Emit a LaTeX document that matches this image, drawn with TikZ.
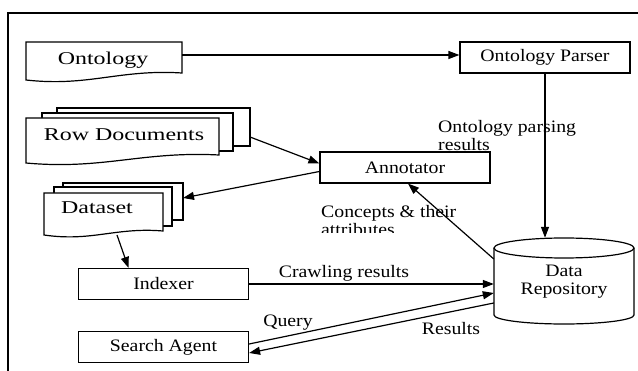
\documentclass[tikz,border=0pt]{standalone}
\usepackage{fontspec}
\setmainfont{Liberation Serif}[FakeStretch=1.13]
\newfontfamily\docfont{Liberation Serif}[FakeStretch=1.33]
\usetikzlibrary{arrows.meta}
\tikzset{
  flowarr/.style = {-{Triangle[length=11pt,width=8pt]},line width=1.2pt},
  procbox/.style = {draw,fill=white,line width=1.2pt,minimum width=170pt,
                    minimum height=31pt,inner sep=0pt,
                    font=\fontsize{17.5}{19}\selectfont},
  lbl/.style     = {font=\fontsize{17.5}{18}\selectfont,inner sep=0pt,align=left},
  doctext/.style = {font=\docfont\fontsize{18}{20}\selectfont,inner sep=0pt},
  docpage/.style = {draw,fill=white,line width=1.2pt}
}
% #1,#2 top left, #3,#4 bottom left corner, #5 rise of the right corner
\newcommand{\docsheet}[5]{%
  \draw[docpage] (#1,#2) -- (#3,#2) -- (#3,#4-#5)
    .. controls (#3*0.6+#1*0.4,#4-#5-4) and (#1*0.6+#3*0.4,#4+7) .. (#1,#4) -- cycle;
}

\begin{document}
\begin{tikzpicture}[x=1pt,y=-1pt]
  \useasboundingbox (0,0) rectangle (638,371);
  \draw[line width=1.2pt] (8,371) -- (8,13) -- (638,13);
  % documents
  \docsheet{26}{42}{182}{80}{7}
  \node[doctext] (onto) at (103,60) {Ontology};
  \draw[docpage] (57,108) rectangle (250,146);
  \draw[docpage] (42,113) rectangle (233,151);
  \docsheet{26}{118}{219}{163}{8}
  \node[doctext] (rowdocs) at (124,135) {Row Documents};
  \draw[docpage] (63,183) rectangle (183,220);
  \draw[docpage] (54,187) rectangle (172,226);
  \docsheet{44}{193}{163}{235}{4}
  \node[doctext] (dataset) at (97,208) {Dataset};
  \coordinate (ontoR) at (182,55);
  \coordinate (rowdocsR) at (250,137);
  \coordinate (datasetR) at (183,198);
  \coordinate (datasetB) at (117,235);
  % labels
  \node[lbl,anchor=west] (parselbl) at (438,136) {Ontology parsing\\results};
  \begin{scope}
    \clip (300,190) rectangle (500,233);
    \node[lbl,anchor=west] (conceptlbl) at (321,221) {Concepts \& their\\attributes};
  \end{scope}
  \node[lbl] (crawllbl) at (344,273) {Crawling results};
  \node[lbl] (querylbl) at (288,323) {Query};
  \node[lbl] (reslbl) at (451,329) {Results};
  % boxes
  \node[procbox] (parser) at (545,57.5) {Ontology Parser};
  \node[procbox] (annot) at (405,167.5) {Annotator};
  \node[procbox] (indexer) at (163.5,284) {Indexer};
  \node[procbox] (search) at (163.5,347) {Search Agent};
  % data repository
  \draw[docpage] (494,248) -- (494,315)
    arc[start angle=180,end angle=0,x radius=70,y radius=9] -- (634,248);
  \draw[docpage] (564,248) ellipse [x radius=70,y radius=10];
  \node[lbl,align=center,minimum width=140pt,minimum height=87pt] (repo)
    at (564,281.5) {Data\\Repository};
  % connectors
  \draw[flowarr] (ontoR) -- (ontoR -| parser.west);
  \draw[flowarr] (parser.south) -- (parser.south |- repo.north);
  \draw[flowarr] (rowdocsR) -- ([yshift=4pt]annot.west);
  \draw[flowarr] ([yshift=-4pt]annot.west) -- (datasetR);
  \draw[flowarr] (datasetB) -- ([xshift=-35pt]indexer.north);
  \draw[flowarr] ([yshift=22.5pt]repo.west) -- ([xshift=3pt]annot.south);
  \draw[flowarr] (indexer.east) -- (indexer.east -| repo.west);
  \draw[flowarr] ([yshift=3pt]search.east) -- ([yshift=-11.5pt]repo.west);
  \draw[flowarr] ([yshift=-21.5pt]repo.west) -- ([yshift=-6pt]search.east);
\end{tikzpicture}
\end{document}
